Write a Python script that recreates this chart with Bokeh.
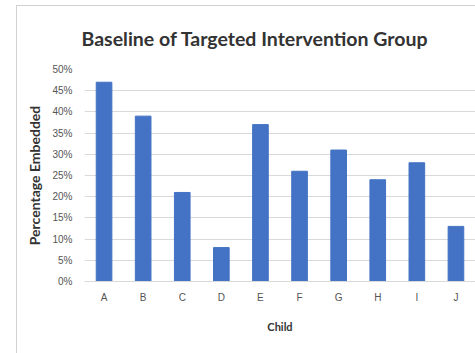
from bokeh.plotting import figure
from bokeh.models import NumeralTickFormatter, FixedTicker, Range1d, InlineStyleSheet
from bokeh.embed import file_html
from bokeh.resources import INLINE

children = ["A", "B", "C", "D", "E", "F", "G", "H", "I", "J"]
percent_embedded = [0.47, 0.39, 0.21, 0.08, 0.37, 0.26, 0.31, 0.24, 0.28, 0.13]
y_ticks = [0, 0.05, 0.10, 0.15, 0.20, 0.25, 0.30, 0.35, 0.40, 0.45, 0.50]
title_text = "Baseline of Targeted Intervention Group"

border_css = InlineStyleSheet(css="""
:host { position: relative; }
:host::after {
  content: ''; position: absolute; left: 16px; top: 5px;
  width: 600px; height: 600px; border: 1px solid #d0d0d0;
  pointer-events: none; z-index: 10;
}
""")

p = figure(x_range=children, y_range=Range1d(0, 0.5), width=475, height=353,
           output_backend="svg", toolbar_location=None,
           title=title_text, stylesheets=[border_css])
p.min_border_left = 84
p.min_border_right = 0
p.min_border_top = 69
p.min_border_bottom = 72

p.vbar(x=children, top=percent_embedded, width=0.4, color="#4472C4")

p.title.text_font = "Lato"
p.title.text_font_size = "19.5px"
p.title.text_font_style = "bold"
p.title.text_color = "#333333"
p.title.offset = -3
p.title.standoff = 40
p.title.align = "left"

p.yaxis.ticker = FixedTicker(ticks=y_ticks)
p.yaxis.formatter = NumeralTickFormatter(format="0%")
p.yaxis.axis_line_color = None
p.yaxis.major_tick_line_color = None
p.yaxis.minor_tick_line_color = None
p.yaxis.major_label_text_font_size = "10px"
p.yaxis.major_label_text_color = "#555555"
p.yaxis.major_label_standoff = 6
p.yaxis.axis_label = "Percentage Embedded"
p.yaxis.axis_label_text_font_size = "14px"
p.yaxis.axis_label_text_font_style = "bold"
p.yaxis.axis_label_text_font = "Lato"
p.yaxis.axis_label_text_color = "#333333"
p.yaxis.axis_label_standoff = 6

p.xaxis.axis_line_color = "#d9d9d9"
p.xaxis.major_tick_line_color = None
p.xaxis.major_label_text_font_size = "10px"
p.xaxis.major_label_text_color = "#555555"
p.xaxis.major_label_standoff = 4
p.xaxis.axis_label = "Child"
p.xaxis.axis_label_text_font_size = "11px"
p.xaxis.axis_label_text_font_style = "bold"
p.xaxis.axis_label_text_font = "Lato"
p.xaxis.axis_label_text_color = "#333333"
p.xaxis.axis_label_standoff = 14

p.xgrid.grid_line_color = None
p.ygrid.grid_line_color = "#d9d9d9"
p.outline_line_color = None
p.background_fill_color = "white"
p.border_fill_color = "white"

open("out.html", "w").write(file_html(p, INLINE))
